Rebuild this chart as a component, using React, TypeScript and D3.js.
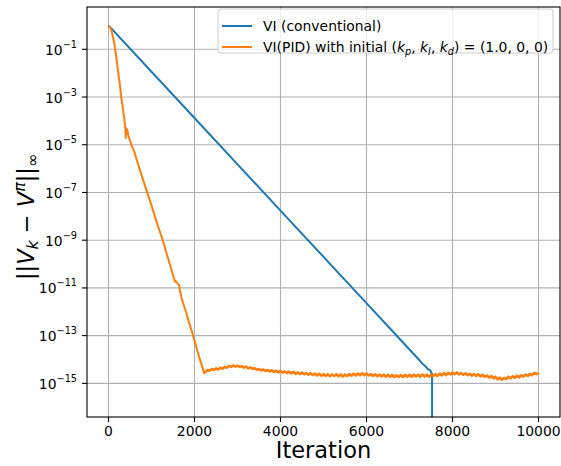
import React from "react";
import * as d3 from "d3";

// ---- data (log10 of ||V_k - V^pi||_inf) ----
const blueIter = [0, 1000, 2000, 3000, 4000, 5000, 6000, 6650, 7000, 7232, 7300, 7350, 7380, 7420, 7450, 7480, 7510, 7525, 7526];
const blueLog = [0, -1.94, -3.88, -5.82, -7.76, -9.7, -11.64, -12.9, -13.58, -14.03, -14.18, -14.25, -14.3, -14.4, -14.42, -14.45, -14.55, -14.6, -19];

const orangeHeadIter = [0, 20, 40, 60, 80, 100, 120, 140, 155, 180, 200, 225, 250, 275, 297, 320, 348, 370, 390, 403, 410, 420, 430, 445, 460, 520, 600, 659, 800, 1000, 1130, 1262, 1400, 1547, 1570, 1600, 1640, 1660, 1703, 1800, 1900, 2000, 2100, 2228, 2250];
const orangeHeadLog = [-0.01, -0.04, -0.1, -0.18, -0.3, -0.45, -0.62, -0.82, -1.0, -1.3, -1.6, -1.95, -2.3, -2.65, -3.0, -3.3, -3.67, -3.95, -4.3, -4.73, -4.3, -4.5, -4.35, -4.45, -4.6, -4.95, -5.3, -5.64, -6.45, -7.55, -8.3, -9.0, -9.85, -10.74, -10.72, -10.8, -10.87, -11.1, -11.45, -12.0, -12.6, -13.2, -13.85, -14.58, -14.52];

const plateauStart = 2250;
const plateauStep = 50;
const plateauLog = [
  -14.52, -14.44, -14.47, -14.40, -14.44, -14.38, -14.42, -14.35, -14.39, -14.31,
  -14.34, -14.27, -14.31, -14.25, -14.30, -14.26, -14.31, -14.28, -14.34, -14.30,
  -14.37, -14.33, -14.39, -14.37, -14.43, -14.40, -14.46, -14.42, -14.48, -14.44,
  -14.50, -14.45, -14.52, -14.47, -14.54, -14.48, -14.55, -14.50, -14.57, -14.51,
  -14.58, -14.52, -14.60, -14.54, -14.61, -14.55, -14.62, -14.57, -14.64, -14.58,
  -14.65, -14.59, -14.67, -14.60, -14.68, -14.61, -14.69, -14.62, -14.70, -14.63,
  -14.69, -14.62, -14.70, -14.63, -14.71, -14.63, -14.70, -14.61, -14.68, -14.60,
  -14.67, -14.59, -14.66, -14.58, -14.66, -14.59, -14.67, -14.61, -14.69, -14.62,
  -14.70, -14.63, -14.71, -14.64, -14.72, -14.64, -14.73, -14.65, -14.74, -14.66,
  -14.73, -14.65, -14.74, -14.64, -14.72, -14.64, -14.73, -14.63, -14.71, -14.64,
  -14.72, -14.63, -14.71, -14.64, -14.73, -14.63, -14.70, -14.61, -14.69, -14.59,
  -14.67, -14.57, -14.65, -14.56, -14.63, -14.55, -14.62, -14.54, -14.62, -14.57,
  -14.64, -14.58, -14.66, -14.60, -14.68, -14.61, -14.69, -14.62, -14.71, -14.64,
  -14.73, -14.67, -14.76, -14.69, -14.79, -14.73, -14.83, -14.76, -14.85, -14.77,
  -14.82, -14.72, -14.79, -14.70, -14.77, -14.68, -14.75, -14.66, -14.72, -14.63,
  -14.69, -14.60, -14.66, -14.56, -14.62, -14.55,
];

const xTicks = [0, 2000, 4000, 6000, 8000, 10000];
const yTickExps = [-15, -13, -11, -9, -7, -5, -3, -1];
const seriesNames = ["VI (conventional)", "VI(PID) with initial "];
const colors = ["#1f77b4", "#ff7f0e"];

const W = 561, H = 466;
const L = 87, R = 560, T = 7, B = 417;
const FONT = "DejaVu Sans, sans-serif";
const TICK_FS = 13.9;

export default function App() {
  const x = d3.scaleLinear().domain([-500, 10500]).range([L, R]);
  const y = d3.scaleLog().domain([Math.pow(10, -16.41), Math.pow(10, 0.773)]).range([B, T]);

  const blue = blueIter.map((it, i) => [it, Math.pow(10, blueLog[i])] as [number, number]);
  const orangeHead = orangeHeadIter.map((it, i) => [it, Math.pow(10, orangeHeadLog[i])] as [number, number]);
  const orangeTail = plateauLog.map((v, i) => [plateauStart + i * plateauStep, Math.pow(10, v)] as [number, number]);
  const line = d3.line<[number, number]>().x((d) => x(d[0])).y((d) => y(d[1]));

  const subFs = TICK_FS * 0.7;
  const yl = 22.5; // y-label font size
  const ylSub = yl * 0.7;

  return (
    <svg width={W} height={H} style={{ position: "absolute", left: 0, top: 0, background: "#fff" }} fontFamily={FONT}>
      <defs>
        <clipPath id="plotclip">
          <rect x={L} y={T} width={R - L} height={B - T} />
        </clipPath>
      </defs>
      <rect x={0} y={0} width={W} height={H} fill="#fff" />
      {/* grid */}
      {xTicks.map((t) => (
        <line key={"gx" + t} x1={x(t)} x2={x(t)} y1={T} y2={B} stroke="#b0b0b0" strokeWidth={1.1} />
      ))}
      {yTickExps.map((e) => (
        <line key={"gy" + e} x1={L} x2={R} y1={y(Math.pow(10, e))} y2={y(Math.pow(10, e))} stroke="#b0b0b0" strokeWidth={1.1} />
      ))}
      {/* lines */}
      <g clipPath="url(#plotclip)">
        <path d={line(blue) || ""} fill="none" stroke={colors[0]} strokeWidth={2} strokeLinejoin="round" />
        <path d={line(orangeHead) || ""} fill="none" stroke={colors[1]} strokeWidth={2} strokeLinejoin="round" />
        <path d={line(orangeTail) || ""} fill="none" stroke={colors[1]} strokeWidth={2.6} strokeLinejoin="round" />
      </g>
      {/* spines */}
      <rect x={L} y={T} width={R - L} height={B - T} fill="none" stroke="#000" strokeWidth={1.1} />
      {/* x ticks */}
      {xTicks.map((t) => (
        <g key={"xt" + t}>
          <line x1={x(t)} x2={x(t)} y1={B} y2={B + 5} stroke="#000" strokeWidth={1.1} />
          <text x={x(t)} y={B + 19} textAnchor="middle" fontSize={TICK_FS} fill="#000">
            {t}
          </text>
        </g>
      ))}
      {/* y ticks */}
      {yTickExps.map((e) => {
        const yy = y(Math.pow(10, e));
        return (
          <g key={"yt" + e}>
            <line x1={L - 5} x2={L} y1={yy} y2={yy} stroke="#000" strokeWidth={1.1} />
            <text x={L - 10} y={yy + 5.5} textAnchor="end" fontSize={TICK_FS} fill="#000">
              <tspan>10</tspan>
              <tspan fontSize={subFs} dy={-7}>{"\u2212" + Math.abs(e)}</tspan>
            </text>
          </g>
        );
      })}
      {/* x label */}
      <text x={(L + R) / 2} y={458} textAnchor="middle" fontSize={22.5} fill="#000">
        Iteration
      </text>
      {/* y label */}
      <text transform={`translate(34, 217) rotate(-90)`} textAnchor="middle" fontSize={yl} fill="#000">
        <tspan>||</tspan>
        <tspan fontStyle="italic">V</tspan>
        <tspan fontStyle="italic" fontSize={ylSub} dy={4}>k</tspan>
        <tspan dy={-4}>{" \u2212 "}</tspan>
        <tspan fontStyle="italic">V</tspan>
        <tspan fontStyle="italic" fontSize={ylSub} dy={-9}>π</tspan>
        <tspan dy={9}>||</tspan>
        <tspan fontSize={ylSub} dy={4}>∞</tspan>
      </text>
      {/* legend */}
      <g>
        <rect x={218} y={9} width={335} height={44} rx={3} ry={3} fill="#fff" fillOpacity={0.8} stroke="#cccccc" strokeWidth={1} />
        <line x1={222} x2={252} y1={26} y2={26} stroke={colors[0]} strokeWidth={2} />
        <text x={263} y={31} fontSize={TICK_FS} fill="#000">{seriesNames[0]}</text>
        <line x1={222} x2={252} y1={47} y2={47} stroke={colors[1]} strokeWidth={2} />
        <text x={263} y={52} fontSize={TICK_FS} fill="#000">
          <tspan>{seriesNames[1]}</tspan>
          <tspan>(</tspan>
          <tspan fontStyle="italic">k</tspan>
          <tspan fontStyle="italic" fontSize={subFs} dy={3}>p</tspan>
          <tspan dy={-3}>, </tspan>
          <tspan fontStyle="italic">k</tspan>
          <tspan fontStyle="italic" fontSize={subFs} dy={3}>I</tspan>
          <tspan dy={-3}>, </tspan>
          <tspan fontStyle="italic">k</tspan>
          <tspan fontStyle="italic" fontSize={subFs} dy={3}>d</tspan>
          <tspan dy={-3}>) = (1.0, 0, 0)</tspan>
        </text>
      </g>
    </svg>
  );
}
